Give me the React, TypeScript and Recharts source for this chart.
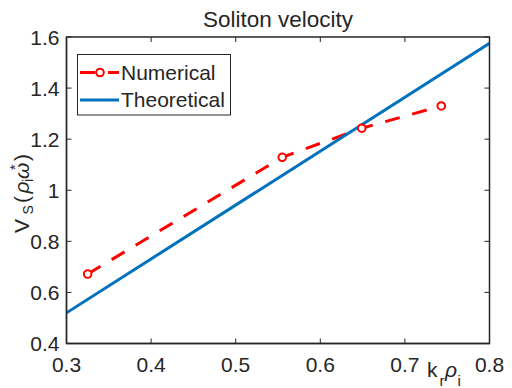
import React from 'react';
import { ComposedChart, Line, XAxis, YAxis } from 'recharts';

// ---- data ----
const numericalK = [0.325, 0.555, 0.649, 0.743];
const numericalV = [0.672, 1.129, 1.243, 1.33];
const theoreticalK = [0.3, 0.8];
const theoreticalV = [0.52, 1.575];
const xTicks = [0.3, 0.4, 0.5, 0.6, 0.7, 0.8];
const yTicks = [0.4, 0.6, 0.8, 1, 1.2, 1.4, 1.6];
const xDomain = [0.3, 0.8];
const yDomain = [0.4, 1.6];
const titleText = 'Soliton velocity';
const seriesNames = ['Numerical', 'Theoretical'];

const numericalData = numericalK.map((k, i) => ({ x: k, v: numericalV[i] }));
const theoreticalData = theoreticalK.map((k, i) => ({ x: k, v: theoreticalV[i] }));

// ---- layout ----
const W = 512;
const H = 388;
const M_TOP = 37;
const M_RIGHT = 22.5;
const Y_AXIS_W = 66.5;
const X_AXIS_H = 44.5;
const PL = Y_AXIS_W;
const PR = W - M_RIGHT;
const PT = M_TOP;
const PB = H - X_AXIS_H;

const AX = '#262626';
const FONT = '"Liberation Sans", Arial, Helvetica, sans-serif';
const RED = '#FF0000';
const BLUE = '#0072BD';
const TICK_FS = 21;

const fmt = (v: number) => String(v);
const sx = (v: number) => PL + ((v - xDomain[0]) / (xDomain[1] - xDomain[0])) * (PR - PL);
const sy = (v: number) => PB - ((v - yDomain[0]) / (yDomain[1] - yDomain[0])) * (PB - PT);

const BottomTick = (p: any) => (
  <g>
    <line x1={p.x} x2={p.x} y1={p.y} y2={p.y - 5} stroke={AX} strokeWidth={1} />
    <text x={p.x} y={p.y + 28} textAnchor="middle" fontSize={TICK_FS} fill={AX} fontFamily={FONT}>
      {fmt(p.payload.value)}
    </text>
  </g>
);
const LeftTick = (p: any) => (
  <g>
    <line x1={p.x} x2={p.x + 5} y1={p.y} y2={p.y} stroke={AX} strokeWidth={1} />
    <text x={p.x - 7} y={p.y + 7.5} textAnchor="end" fontSize={TICK_FS} fill={AX} fontFamily={FONT}>
      {fmt(p.payload.value)}
    </text>
  </g>
);

export default function App() {
  return (
    <div style={{ position: 'absolute', left: 0, top: 0, width: W, height: H, background: '#fff' }}>
      <ComposedChart width={W} height={H} margin={{ top: M_TOP, right: M_RIGHT, left: 0, bottom: 0 }}>
        <XAxis
          type="number"
          dataKey="x"
          domain={xDomain}
          ticks={xTicks}
          interval={0}
          allowDataOverflow
          height={X_AXIS_H}
          tickLine={false}
          tickSize={0}
          tickMargin={0}
          axisLine={{ stroke: AX, strokeWidth: 1.3 }}
          tick={<BottomTick />}
        />
        <YAxis
          type="number"
          domain={yDomain}
          ticks={yTicks}
          interval={0}
          allowDataOverflow
          width={Y_AXIS_W}
          tickLine={false}
          tickSize={0}
          tickMargin={0}
          axisLine={{ stroke: AX, strokeWidth: 1.3 }}
          tick={<LeftTick />}
        />
        <Line
          data={numericalData}
          dataKey="v"
          name={seriesNames[0]}
          stroke={RED}
          strokeWidth={3}
          strokeDasharray="15 13"
          dot={{ r: 3.8, stroke: RED, strokeWidth: 2, fill: '#fff', strokeDasharray: 'none' }}
          isAnimationActive={false}
        />
        <Line
          data={theoreticalData}
          dataKey="v"
          name={seriesNames[1]}
          stroke={BLUE}
          strokeWidth={3}
          dot={false}
          isAnimationActive={false}
        />
      </ComposedChart>
      <svg
        width={W}
        height={H}
        style={{ position: 'absolute', left: 0, top: 0, pointerEvents: 'none' }}
      >
        {/* box frame with inward ticks on top and right edges */}
        <rect x={PL} y={PT} width={PR - PL} height={PB - PT} fill="none" stroke={AX} strokeWidth={1.5} />
        {xTicks.map((t) => (
          <line key={'tt' + t} x1={sx(t)} x2={sx(t)} y1={PT} y2={PT + 5} stroke={AX} strokeWidth={1} />
        ))}
        {yTicks.map((t) => (
          <line key={'rt' + t} x1={PR} x2={PR - 5} y1={sy(t)} y2={sy(t)} stroke={AX} strokeWidth={1} />
        ))}
        <text x={(PL + PR) / 2} y={27} textAnchor="middle" fontSize={22.5} fill={AX} fontFamily={FONT}>
          {titleText}
        </text>
        {/* x label k_r rho_i */}
        <text y={376.5} fontSize={21} fill={AX} fontFamily={FONT}>
          <tspan x={427}>k</tspan>
          <tspan x={439.5} dy={9} fontSize={15}>r</tspan>
          <tspan x={445} dy={-9} fontStyle="italic">ρ</tspan>
          <tspan x={457.5} dy={9} fontSize={15}>i</tspan>
        </text>
        {/* y label V_S(rho_i omega_*) */}
        <g transform="translate(29 233) rotate(-90)">
          <text x={0} y={0} fontSize={21} fill={AX} fontFamily={FONT}>
            <tspan x={0}>V</tspan>
            <tspan x={18.5} dy={4} fontSize={14}>S</tspan>
            <tspan x={30} dy={-4}>(</tspan>
            <tspan x={39.5} fontStyle="italic">ρ</tspan>
            <tspan x={51} dy={4} fontSize={14}>i</tspan>
            <tspan x={54} dy={-4} fontStyle="italic">ω</tspan>
            <tspan x={63} dy={-9} fontSize={14}>*</tspan>
            <tspan x={72} dy={9}>)</tspan>
          </text>
        </g>
        {/* legend */}
        <rect x={77.5} y={54.5} width={153} height={60.5} fill="#fff" stroke={AX} strokeWidth={1} />
        <line x1={80} x2={119} y1={72.5} y2={72.5} stroke={RED} strokeWidth={3} strokeDasharray="15 13" />
        <circle cx={100} cy={72.5} r={3.8} fill="#fff" stroke={RED} strokeWidth={2} />
        <text x={121} y={80} fontSize={21} fill={AX} fontFamily={FONT}>{seriesNames[0]}</text>
        <line x1={80} x2={119} y1={100} y2={100} stroke={BLUE} strokeWidth={3} />
        <text x={121} y={107} fontSize={21} fill={AX} fontFamily={FONT}>{seriesNames[1]}</text>
      </svg>
    </div>
  );
}
